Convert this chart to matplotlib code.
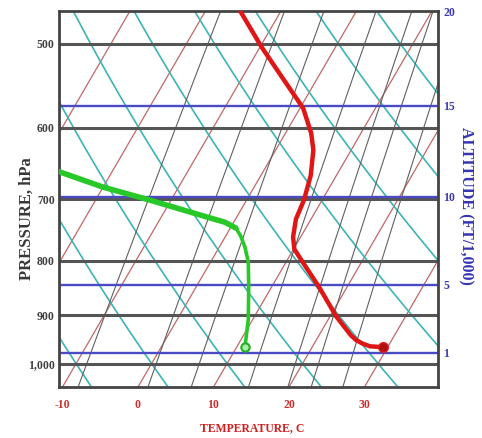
import numpy as np
import matplotlib.pyplot as plt
from matplotlib.ticker import NullLocator

# sounding: pressure (hPa) and temperature (C)
temp_p = [465.6, 503.4, 540.0, 574.6, 606.7, 629.5, 665.0, 701.6, 731.1, 760.0,
          780.2, 802.5, 847.1, 902.5, 940.2, 950.4, 957.5, 963.2, 964.9]
temp_t = [-15.4, -9.8, -4.4, 0.4, 3.4, 5.0, 6.6, 7.6, 8.0, 9.0,
          10.1, 12.2, 16.3, 20.8, 24.2, 25.3, 26.4, 27.6, 29.4]

# dewpoint profile, dry layer aloft
dew_top_p = [655.0, 682.1, 701.6, 727.9, 735.9, 745.5]
dew_top_t = [-28.5, -20.0, -12.8, -3.9, -1.2, 0.75]
# dewpoint profile, moist layer near the ground
dew_low_p = [745.5, 758.5, 776.8, 802.5, 845.3, 908.4, 964.9]
dew_low_t = [0.75, 2.0, 3.4, 5.0, 6.9, 9.4, 11.1]

press_levels = [500, 600, 700, 800, 900, 1000]
press_labels = ['500', '600', '700', '800', '900', '1,000']
alt_kft = [1, 5, 10, 15, 20]
temp_ticks = [-10, 0, 10, 20, 30]

P_BOT, P_TOP = 1052.0, 465.6
SKEW = 35.5


def skew_x(t, p):
    return np.asarray(t) + SKEW * np.log(1050.0 / np.asarray(p))


def alt_to_p(kft):
    return 1013.25 * (1 - 6.8756e-6 * kft * 1000) ** 5.2559


serif = 'Liberation Serif'
fig = plt.figure(figsize=(4.82, 4.38), dpi=100)
ax = fig.add_axes([59 / 482, 1 - 387 / 438, 379 / 482, 376 / 438])
ax.set_yscale('log')
ax.set_ylim(P_BOT, P_TOP)
ax.set_xlim(-10.53, 39.67)

pp = np.geomspace(P_TOP * 0.95, P_BOT * 1.02, 200)

# isotherms
for t in range(-70, 50, 10):
    ax.plot(skew_x(t, pp), pp, color='#c06868', lw=0.9, zorder=1)

# dry adiabats
for th in range(-40, 100, 10):
    tt = (th + 273.15) * (pp / 1000.0) ** 0.2857 - 273.15
    ax.plot(skew_x(tt, pp), pp, color='#3cb4b4', lw=1.2, zorder=1)

# saturation mixing ratio lines (g/kg)
for w in [2, 4, 6, 10, 14, 17, 22]:
    e = w * pp / (622.0 + w)
    le = np.log(e / 6.112)
    td = 243.5 * le / (17.67 - le)
    ax.plot(skew_x(td, pp), pp, color='#606060', lw=0.8, zorder=1)

# pressure and altitude levels
for p in press_levels:
    ax.axhline(p, color='#555555', lw=2.2, zorder=2)
for k in alt_kft[:-1]:
    ax.axhline(alt_to_p(k), color='#4a4ac4', lw=1.7, zorder=2)

# temperature and dewpoint traces
ax.plot(skew_x(temp_t, temp_p), temp_p, color='#e01515', lw=3.2, zorder=4,
        solid_capstyle='round', solid_joinstyle='round')
ax.plot(skew_x(dew_top_t, dew_top_p), dew_top_p, color='#28c828', lw=4,
        zorder=4, solid_capstyle='round', solid_joinstyle='round')
ax.plot(skew_x(dew_low_t, dew_low_p), dew_low_p, color='#28c828', lw=2.6,
        zorder=4, solid_capstyle='round', solid_joinstyle='round')
ax.plot(skew_x(temp_t[-1], temp_p[-1]), temp_p[-1], 'o', ms=7,
        mfc='#b01010', mec='#e02020', zorder=5)
ax.plot(skew_x(dew_low_t[-1], dew_low_p[-1]), dew_low_p[-1], 'o', ms=6,
        mfc='#a8f0a8', mec='#22b022', mew=1.5, zorder=5)

for s in ax.spines.values():
    s.set_color('#444444')
    s.set_linewidth(2)

ax.yaxis.set_minor_locator(NullLocator())
ax.set_yticks(press_levels)
ax.set_yticklabels(press_labels)
ax.tick_params(axis='y', length=0, pad=3, labelcolor='#404040', labelsize=8.5)
ax.set_xticks(skew_x(temp_ticks, P_BOT))
ax.set_xticklabels([str(t) for t in temp_ticks])
ax.tick_params(axis='x', length=0, pad=9, labelcolor='#c83030', labelsize=8.5)
for lab in ax.get_xticklabels() + ax.get_yticklabels():
    lab.set_family(serif)
    lab.set_weight('bold')

ax2 = ax.twinx()
ax2.set_yscale('log')
ax2.set_ylim(P_BOT, P_TOP)
ax2.yaxis.set_minor_locator(NullLocator())
ax2.set_yticks([alt_to_p(k) for k in alt_kft])
ax2.set_yticklabels([str(k) for k in alt_kft])
ax2.tick_params(axis='y', length=0, pad=4, labelcolor='#3a3ab0', labelsize=8.5)
for lab in ax2.get_yticklabels():
    lab.set_family(serif)
    lab.set_weight('bold')
for s in ax2.spines.values():
    s.set_visible(False)

fig.text(27 / 482, 1 - 219 / 438, 'PRESSURE, hPa', rotation=90, ha='center',
         va='center', family=serif, weight='bold', fontsize=12, color='#383838')
fig.text(466 / 482, 1 - 206 / 438, 'ALTITUDE (FT/1,000)', rotation=-90,
         ha='center', va='center', family=serif, weight='bold', fontsize=11.5,
         color='#3535b0')
fig.text(252 / 482, 1 - 428 / 438, 'TEMPERATURE, C', ha='center', va='center',
         family=serif, weight='bold', fontsize=8.5, color='#d02020')

fig.savefig('out.png', dpi=100)
